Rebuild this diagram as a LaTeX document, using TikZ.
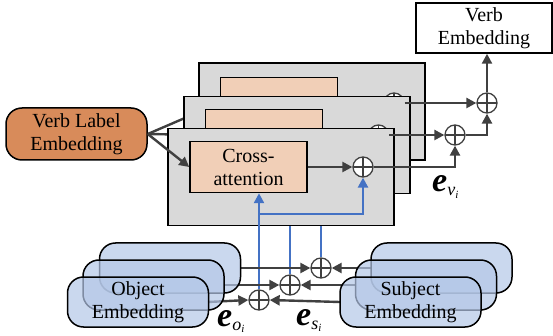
\documentclass[tikz,border=0pt]{standalone}
\usepackage{fontspec}
\setmainfont{Liberation Serif}
\usetikzlibrary{arrows.meta,calc}

\definecolor{linegray}{HTML}{404040}
\definecolor{panelgray}{HTML}{D9D9D9}
\definecolor{peach}{HTML}{F1CFB7}
\definecolor{verborange}{HTML}{D88B5A}
\definecolor{embblue}{HTML}{B4C7E7}
\definecolor{attnblue}{HTML}{4472C4}

\newcommand{\embsym}[1]{{\fontsize{34}{34}\selectfont\bfseries\itshape e}\raisebox{-4pt}{\fontsize{18}{18}\selectfont\itshape #1\raisebox{-2.5pt}{\fontsize{11}{11}\selectfont i}}}

\tikzset{
  txt/.style={font=\rmfamily\fontsize{20}{23}\selectfont, align=center},
  panel/.style={draw=black, fill=panelgray, line width=1.5pt, minimum width=226pt, minimum height=97pt, inner sep=0pt},
  attnbox/.style={draw=black, fill=peach, line width=1.5pt, minimum width=117pt, minimum height=51pt, inner sep=0pt, txt},
  embbox/.style={draw=black, fill=embblue, fill opacity=0.7, text opacity=1, line width=1.5pt, rounded corners=16pt, minimum width=141pt, minimum height=50pt, inner sep=0pt, txt},
  oplus/.style={circle, draw=linegray, fill=white, line width=1.3pt, minimum size=20pt, inner sep=0pt,
    path picture={\draw[linegray, line width=1.3pt] (path picture bounding box.north) -- (path picture bounding box.south)
      (path picture bounding box.west) -- (path picture bounding box.east);}},
  conn/.style={draw=linegray, line width=2.4pt, -{Triangle[length=10pt,width=10pt]}},
  bconn/.style={draw=attnblue, line width=2.4pt, -{Triangle[length=10pt,width=10pt]}},
  bplain/.style={draw=attnblue, line width=2.4pt},
}

\begin{document}
\begin{tikzpicture}[x=1pt, y=-1pt]
\useasboundingbox (0,0) rectangle (553,336);

% verb label input
\node[txt, draw=black, fill=verborange, line width=1.5pt, rounded corners=16pt, minimum width=141pt, minimum height=52pt, inner sep=0pt] (vle) at (76.5,134) {Verb Label\\Embedding};

% blue inputs for the hidden layers
\node[oplus] (o3) at (321,268) {};
\node[oplus] (o2) at (290,285) {};

% back attention layer
\node[panel] (pB) at (312,111.5) {};
\node[attnbox] (caB) at (279,103) {};
\node[oplus] (opB) at (394,103) {};
\draw[conn] (caB.east) -- (opB.west);
\draw[conn] (vle.east) -- (caB.west);
\draw[bplain] (o3.north) -- (o3 |- pB.south);

% middle attention layer
\node[panel] (pM) at (297,145) {};
\node[attnbox] (caM) at (264,135) {};
\node[oplus] (opM) at (378.5,135) {};
\draw[conn] (caM.east) -- (opM.west);
\draw[conn] (vle.east) -- (caM.west);
\draw[bplain] (o2.north) -- (o2 |- pM.south);

% front attention layer
\node[panel] (pF) at (281,177) {};
\node[attnbox] (caF) at (248.5,167) {Cross-\\attention};
\node[oplus] (opF) at (363,167) {};
\draw[conn] (caF.east) -- (opF.west);
\draw[conn] (vle.east) -- (caF.west);

% aggregation of the layer outputs
\node[oplus] (r1) at (455,135) {};
\node[oplus] (r2) at (487,103) {};
\node[txt, draw=black, line width=1.5pt, minimum width=136pt, minimum height=50pt, inner sep=0pt] (vemb) at (484,28) {Verb\\Embedding};
\draw[conn] (opB.east) -- (r2.west);
\draw[conn] (opM.east) -- (r1.west);
\draw[conn] (opF.east) -| (r1.south);
\draw[conn] (r1.east) -| (r2.south);
\draw[conn] (r2.north) -- (r2 |- vemb.south);

% object / subject fusion
\node[oplus] (o1) at (259,300) {};
\coordinate (br) at (259,214);
\draw[bconn] (o1.north) -- (o1 |- caF.south);
\draw[bconn] (br) -| (opF.south);

\coordinate (objBe) at (241,268);
\coordinate (objMe) at (224,285);
\coordinate (objFe) at (208,302);
\coordinate (subBw) at (371,268);
\coordinate (subMw) at (356,285);
\coordinate (subFw) at (340,302);
\draw[conn] (objBe) -- (o3.west);
\draw[conn] (objMe) -- (o2.west);
\draw[conn] (objFe) -- (o1.west);
\draw[conn] (subBw) -- (o3.east);
\draw[conn] (subMw) -- (o2.east);
\draw[conn] (subFw) -- (o1.east);

\node[embbox] (objB) at (170,268) {};
\node[embbox] (objM) at (153.5,285) {};
\node[embbox] (objF) at (138,302) {Object\\Embedding};
\node[embbox] (subB) at (441.5,268) {};
\node[embbox] (subM) at (426,285) {};
\node[embbox] (subF) at (410.5,302) {Subject\\Embedding};

% embedding symbols
\node[anchor=base west, inner sep=0pt] (ev) at (432,192) {\embsym{v}};
\node[anchor=base west, inner sep=0pt] (eo) at (217,326) {\embsym{o}};
\node[anchor=base west, inner sep=0pt] (es) at (296,325) {\embsym{s}};
\end{tikzpicture}
\end{document}
